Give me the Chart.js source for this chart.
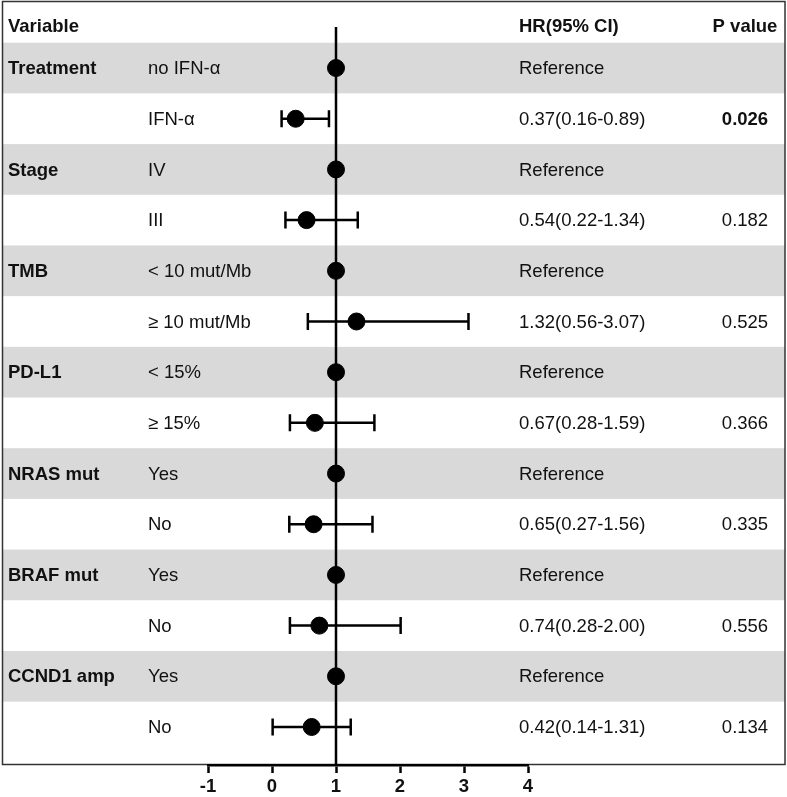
<!DOCTYPE html>
<html>
<head>
<meta charset="utf-8">
<script src="https://cdn.jsdelivr.net/npm/chart.js@4.4.1/dist/chart.umd.min.js"></script>
<style>
  html, body { margin: 0; padding: 0; background: #fff; }
  #wrap { width: 787px; height: 797px; }
</style>
</head>
<body>
<div id="wrap"><canvas id="forest"></canvas></div>
<script>
// rows of the forest plot, top to bottom
const variables = ['Treatment', '', 'Stage', '', 'TMB', '', 'PD-L1', '', 'NRAS mut', '', 'BRAF mut', '', 'CCND1 amp', ''];
const levels = ['no IFN-α', 'IFN-α', 'IV', 'III', '< 10 mut/Mb', '≥ 10 mut/Mb', '< 15%', '≥ 15%', 'Yes', 'No', 'Yes', 'No', 'Yes', 'No'];
const hr = [1, 0.37, 1, 0.54, 1, 1.32, 1, 0.67, 1, 0.65, 1, 0.74, 1, 0.62];
const lower = [null, 0.15, null, 0.21, null, 0.56, null, 0.28, null, 0.27, null, 0.28, null, 0.01];
const upper = [null, 0.89, null, 1.34, null, 3.07, null, 1.60, null, 1.57, null, 2.01, null, 1.23];
const hrText = ['Reference', '0.37(0.16-0.89)', 'Reference', '0.54(0.22-1.34)', 'Reference', '1.32(0.56-3.07)',
  'Reference', '0.67(0.28-1.59)', 'Reference', '0.65(0.27-1.56)', 'Reference', '0.74(0.28-2.00)', 'Reference', '0.42(0.14-1.31)'];
const pText = ['', '0.026', '', '0.182', '', '0.525', '', '0.366', '', '0.335', '', '0.556', '', '0.134'];
const pBold = [false, true, false, false, false, false, false, false, false, false, false, false, false, false];
const xTicks = [-1, 0, 1, 2, 3, 4];

const yMin = -0.81, yMax = 13.75;
const FONT = '"Liberation Sans", Arial, sans-serif';

// white page, grey bands and the frame
const bandsPlugin = {
  id: 'bands',
  beforeDraw(chart) {
    const ctx = chart.ctx;
    const y = chart.scales.y;
    ctx.save();
    ctx.fillStyle = '#fff';
    ctx.fillRect(0, 0, chart.width, chart.height);
    ctx.fillStyle = '#d9d9d9';
    for (let i = 0; i < levels.length; i += 2) {
      const top = y.getPixelForValue(i - 0.5);
      const bot = y.getPixelForValue(i + 0.5);
      ctx.fillRect(2, top, 783, bot - top);
    }
    ctx.strokeStyle = '#333';
    ctx.lineWidth = 1.5;
    ctx.strokeRect(2.5, 1.5, 782.5, 763);
    ctx.restore();
  }
};

// whiskers with caps
const errorBarPlugin = {
  id: 'errorBars',
  beforeDatasetsDraw(chart) {
    const ctx = chart.ctx;
    const x = chart.scales.x, y = chart.scales.y;
    ctx.save();
    ctx.strokeStyle = '#000';
    ctx.lineWidth = 2.5;
    for (let i = 0; i < hr.length; i++) {
      if (lower[i] == null) continue;
      const py = y.getPixelForValue(i);
      const x0 = x.getPixelForValue(lower[i]);
      const x1 = x.getPixelForValue(upper[i]);
      ctx.beginPath();
      ctx.moveTo(x0, py); ctx.lineTo(x1, py);
      ctx.moveTo(x0, py - 8.5); ctx.lineTo(x0, py + 8.5);
      ctx.moveTo(x1, py - 8.5); ctx.lineTo(x1, py + 8.5);
      ctx.stroke();
    }
    ctx.restore();
  }
};

// table text
const tablePlugin = {
  id: 'table',
  afterDraw(chart) {
    const ctx = chart.ctx;
    const y = chart.scales.y;
    ctx.save();
    ctx.fillStyle = '#111';
    ctx.textBaseline = 'middle';
    ctx.font = 'bold 18.5px ' + FONT;
    ctx.textAlign = 'left';
    ctx.fillText('Variable', 8, 27);
    ctx.fillText('HR(95% CI)', 519, 27);
    ctx.textAlign = 'center';
    ctx.fillText('P value', 745, 27);
    for (let i = 0; i < levels.length; i++) {
      const py = y.getPixelForValue(i) + 1;
      ctx.textAlign = 'left';
      if (variables[i]) {
        ctx.font = 'bold 18.5px ' + FONT;
        ctx.fillText(variables[i], 8, py);
      }
      ctx.font = '18.5px ' + FONT;
      ctx.fillText(levels[i], 148, py);
      ctx.fillText(hrText[i], 519, py);
      if (pText[i]) {
        ctx.textAlign = 'center';
        ctx.font = (pBold[i] ? 'bold ' : '') + '18.5px ' + FONT;
        ctx.fillText(pText[i], 745, py);
      }
    }
    ctx.restore();
  }
};

new Chart(document.getElementById('forest'), {
  type: 'scatter',
  data: {
    datasets: [
      {
        label: 'HR',
        data: hr.map((v, i) => ({ x: v, y: i })),
        backgroundColor: '#000',
        borderColor: '#000',
        pointRadius: 8.5,
        pointHoverRadius: 8.5,
        order: 0
      },
      {
        type: 'line',
        label: 'HR = 1',
        data: [{ x: 1, y: yMin }, { x: 1, y: yMax }],
        borderColor: '#000',
        borderWidth: 2.5,
        pointRadius: 0,
        order: 1
      }
    ]
  },
  options: {
    responsive: true,
    maintainAspectRatio: false,
    animation: false,
    layout: { padding: { left: 208, right: 259, top: 27, bottom: 0 } },
    plugins: { legend: { display: false }, tooltip: { enabled: false } },
    scales: {
      x: {
        type: 'linear',
        min: -1,
        max: 4,
        afterBuildTicks(scale) { scale.ticks = xTicks.map(v => ({ value: v })); },
        afterFit(scale) { scale.height = 32; },
        grid: { drawOnChartArea: false, drawTicks: true, tickLength: 8, tickWidth: 2.5, color: '#000' },
        border: { display: true, color: '#000', width: 2.5 },
        ticks: { color: '#111', font: { family: FONT, size: 18.5, weight: 'bold' }, padding: 3 }
      },
      y: {
        type: 'linear',
        min: yMin,
        max: yMax,
        reverse: true,
        display: false
      }
    }
  },
  plugins: [bandsPlugin, errorBarPlugin, tablePlugin]
});
</script>
</body>
</html>
